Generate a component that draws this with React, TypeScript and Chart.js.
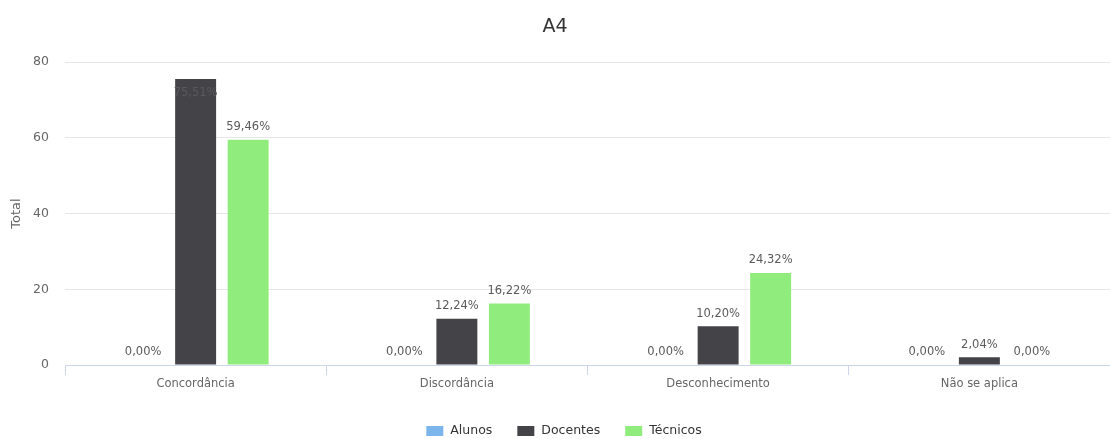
import React, { useEffect, useRef } from "react";
import { Chart, registerables } from "chart.js";

Chart.register(...registerables);

const title = "A4";
const categories = ["Concordância", "Discordância", "Desconhecimento", "Não se aplica"];
const seriesNames = ["Alunos", "Docentes", "Técnicos"];
const seriesColors = ["#7cb5ec", "#434348", "#90ed7d"];
const alunos = [0, 0, 0, 0];
const docentes = [75.51, 12.24, 10.2, 2.04];
const tecnicos = [59.46, 16.22, 24.32, 0];
const yTicks = [0, 20, 40, 60, 80];
const yTitle = "Total";

const FONT = "'DejaVu Sans', Verdana, sans-serif";

const formatPct = (v: number) => v.toFixed(2).replace(".", ",") + "%";

// Percent labels above each column; pushed inside the column when it would leave the plot.
const valueLabels = {
  id: "valueLabels",
  afterDatasetsDraw(chart: any) {
    const { ctx, chartArea } = chart;
    ctx.save();
    ctx.font = `11.5px ${FONT}`;
    ctx.fillStyle = "#5a5a5a";
    ctx.textAlign = "center";
    ctx.textBaseline = "middle";
    chart.data.datasets.forEach((ds: any, di: number) => {
      const meta = chart.getDatasetMeta(di);
      meta.data.forEach((bar: any, i: number) => {
        const v = ds.data[i] as number;
        let y = bar.y - 12.5;
        if (y - 6 < chartArea.top) y = bar.y + 14;
        ctx.fillText(formatPct(v), bar.x, y);
      });
    });
    ctx.restore();
  },
};

// Chart heading and the legend row under the axis.
const headingAndLegend = {
  id: "headingAndLegend",
  afterDraw(chart: any) {
    const { ctx, width } = chart;
    ctx.save();
    ctx.fillStyle = "#333333";
    ctx.font = `19px ${FONT}`;
    ctx.textAlign = "center";
    ctx.textBaseline = "middle";
    ctx.fillText(title, width / 2, 27);

    ctx.font = `12.5px ${FONT}`;
    const boxW = 17;
    const boxH = 10;
    const gap = 7;
    const itemGap = 25;
    const widths = seriesNames.map((n) => boxW + gap + ctx.measureText(n).width);
    const total = widths.reduce((a, b) => a + b, 0) + itemGap * (seriesNames.length - 1);
    let x = width / 2 + 9 - total / 2;
    const cy = 431;
    ctx.textAlign = "left";
    seriesNames.forEach((n, i) => {
      ctx.fillStyle = seriesColors[i];
      ctx.fillRect(x, cy - boxH / 2, boxW, boxH);
      ctx.fillStyle = "#333333";
      ctx.fillText(n, x + boxW + gap, cy);
      x += widths[i] + itemGap;
    });
    ctx.restore();
  },
};

export default function App() {
  const canvasRef = useRef<HTMLCanvasElement | null>(null);

  useEffect(() => {
    if (!canvasRef.current) return;
    const chart = new Chart(canvasRef.current, {
      type: "bar",
      data: {
        labels: categories,
        datasets: [alunos, docentes, tecnicos].map((d, i) => ({
          label: seriesNames[i],
          data: d,
          backgroundColor: seriesColors[i],
          borderWidth: 0,
          categoryPercentage: 0.603,
          barPercentage: 0.78,
        })),
      },
      options: {
        responsive: false,
        animation: false,
        devicePixelRatio: 1,
        events: [],
        layout: { padding: { top: 62, right: 0, bottom: 0, left: 0 } },
        plugins: {
          legend: { display: false },
          title: { display: false },
          tooltip: { enabled: false },
        },
        scales: {
          x: {
            offset: true,
            grid: {
              offset: true,
              drawOnChartArea: false,
              drawTicks: true,
              tickLength: 10,
              color: "#ccd6eb",
            },
            border: { display: true, color: "#ccd6eb" },
            ticks: {
              color: "#666666",
              font: { family: FONT, size: 11.5 },
              padding: 2,
              maxRotation: 0,
            },
            afterFit(scale: any) {
              scale.height = 74;
            },
          },
          y: {
            min: 0,
            max: 80,
            afterBuildTicks(scale: any) {
              scale.ticks = yTicks.map((v) => ({ value: v }));
            },
            grid: { color: "#e6e6e6", drawTicks: false },
            border: { display: false },
            ticks: {
              color: "#666666",
              font: { family: FONT, size: 12.5 },
              padding: 16,
            },
            title: {
              display: true,
              text: yTitle,
              color: "#666666",
              font: { family: FONT, size: 13 },
              padding: { top: 9, bottom: 0 },
            },
            afterFit(scale: any) {
              scale.width = 65;
            },
          },
        },
      },
      plugins: [valueLabels, headingAndLegend],
    });
    return () => chart.destroy();
  }, []);

  return (
    <div style={{ position: "absolute", left: 0, top: 0, width: 1110, height: 439, background: "#ffffff" }}>
      <canvas ref={canvasRef} width={1110} height={439} style={{ display: "block" }} />
    </div>
  );
}
